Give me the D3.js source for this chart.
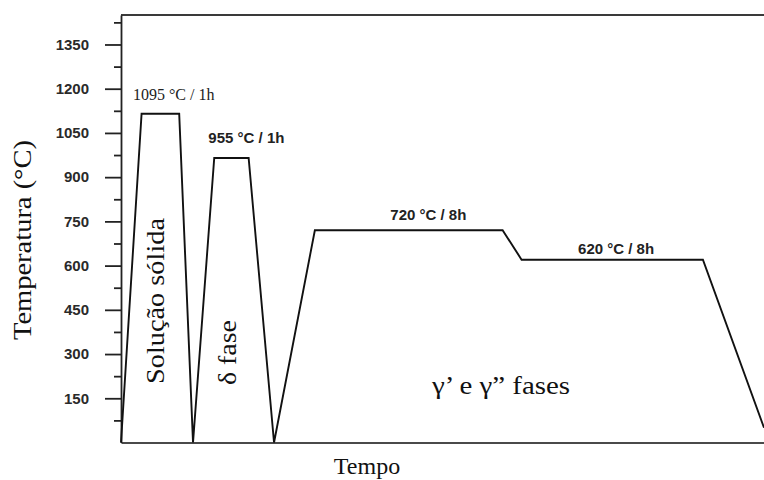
<!DOCTYPE html>
<html>
<head>
<meta charset="utf-8">
<script src="https://cdn.jsdelivr.net/npm/d3@7"></script>
<style>
  html, body { margin: 0; padding: 0; background: #fff; }
  svg { display: block; }
</style>
</head>
<body>
<div id="chart"></div>
<script>
// ---- data ----
const time = [0, 3.2, 9.05, 11.2, 14.5, 19.85, 23.8, 30.15, 59.35, 62.3, 90.5, 100];
const temperature = [0, 1115, 1115, 0, 965, 965, 0, 720, 720, 620, 620, 50];
const majorTicks = [150, 300, 450, 600, 750, 900, 1050, 1200, 1350];
const minorTicks = [75, 225, 375, 525, 675, 825, 975, 1125, 1275, 1425];
const stepLabels = ["1095 °C / 1h", "955 °C / 1h", "720 °C / 8h", "620 °C / 8h"];
const stepLabelTime = [8.2, 19.5, 47.8, 77.0];
const stepLabelTemp = [1162, 1017, 755, 640];
const phaseLabels = ["Solução sólida", "δ fase", "γ’ e γ” fases"];
const phaseLabelTime = [5.4, 16.6, 59.1];
const phaseLabelTemp = [480, 305, 165];
const yTitle = "Temperatura (°C)";
const xTitle = "Tempo";

// ---- layout ----
const W = 764, H = 480;
const mLeft = 121, mRight = 764, mTop = 15, mBottom = 442.5;
const serif = "'Liberation Serif','Times New Roman',serif";
const sans = "'Liberation Sans',Arial,sans-serif";

const x = d3.scaleLinear().domain([0, 100]).range([mLeft, mRight]);
const y = d3.scaleLinear().domain([0, 1450]).range([mBottom, mTop]);

const svg = d3.select("#chart").append("svg").attr("width", W).attr("height", H);

// top frame line
svg.append("line")
  .attr("x1", x(0)).attr("x2", x(100)).attr("y1", y(1450)).attr("y2", y(1450))
  .attr("stroke", "#3a3a3a").attr("stroke-width", 2);

// bottom axis (baseline only)
const xAxis = svg.append("g").attr("transform", `translate(0,${y(0)})`)
  .call(d3.axisBottom(x).tickValues([]).tickSizeOuter(0));
xAxis.select(".domain").attr("stroke", "#4a4a4a").attr("stroke-width", 2.2);

// minor ticks on y
const yMinor = svg.append("g").attr("transform", `translate(${mLeft},0)`)
  .call(d3.axisLeft(y).tickValues(minorTicks).tickSize(7).tickFormat("").tickSizeOuter(0));
yMinor.select(".domain").remove();
yMinor.selectAll(".tick line").attr("stroke", "#222").attr("stroke-width", 1.8);

// major ticks on y
const yAxis = svg.append("g").attr("transform", `translate(${mLeft},0)`)
  .call(d3.axisLeft(y).tickValues(majorTicks).tickFormat(d3.format("d"))
    .tickSize(16).tickPadding(16).tickSizeOuter(0));
yAxis.select(".domain").attr("stroke", "#222").attr("stroke-width", 1.8);
yAxis.selectAll(".tick line").attr("stroke", "#222").attr("stroke-width", 1.8);
yAxis.selectAll(".tick text")
  .attr("font-family", sans).attr("font-size", 15).attr("font-weight", "bold")
  .attr("fill", "#2a2a2a");

// heat treatment profile
const line = d3.line().x((d, i) => x(time[i])).y((d, i) => y(temperature[i]));
svg.append("path")
  .datum(temperature)
  .attr("d", line)
  .attr("fill", "none").attr("stroke", "#111").attr("stroke-width", 1.9)
  .attr("stroke-linejoin", "miter");

// step labels
stepLabels.forEach((t, i) => {
  svg.append("text")
    .attr("x", x(stepLabelTime[i])).attr("y", y(stepLabelTemp[i]))
    .attr("text-anchor", "middle")
    .attr("font-family", i === 0 ? serif : sans)
    .attr("font-size", i === 0 ? 16 : 15)
    .attr("font-weight", i === 0 ? "normal" : "bold")
    .attr("fill", "#222")
    .text(t);
});

// phase labels
const phaseLen = [166, 65, 138];
phaseLabels.forEach((t, i) => {
  const px = x(phaseLabelTime[i]), py = y(phaseLabelTemp[i]);
  const txt = svg.append("text")
    .attr("font-family", serif).attr("font-size", 25).attr("fill", "#111")
    .attr("text-anchor", "middle")
    .attr("textLength", phaseLen[i]).attr("lengthAdjust", "spacingAndGlyphs")
    .text(t);
  if (i < 2) {
    txt.attr("transform", `translate(${px},${py}) rotate(-90)`).attr("dy", "0.35em");
  } else {
    txt.attr("x", px).attr("y", py);
  }
});

// axis titles
svg.append("text")
  .attr("transform", `translate(31,240) rotate(-90)`)
  .attr("text-anchor", "middle")
  .attr("font-family", serif).attr("font-size", 25).attr("fill", "#111")
  .attr("textLength", 200).attr("lengthAdjust", "spacingAndGlyphs")
  .text(yTitle);

svg.append("text")
  .attr("x", 367).attr("y", 474)
  .attr("text-anchor", "middle")
  .attr("font-family", serif).attr("font-size", 24).attr("fill", "#111")
  .text(xTitle);
</script>
</body>
</html>
